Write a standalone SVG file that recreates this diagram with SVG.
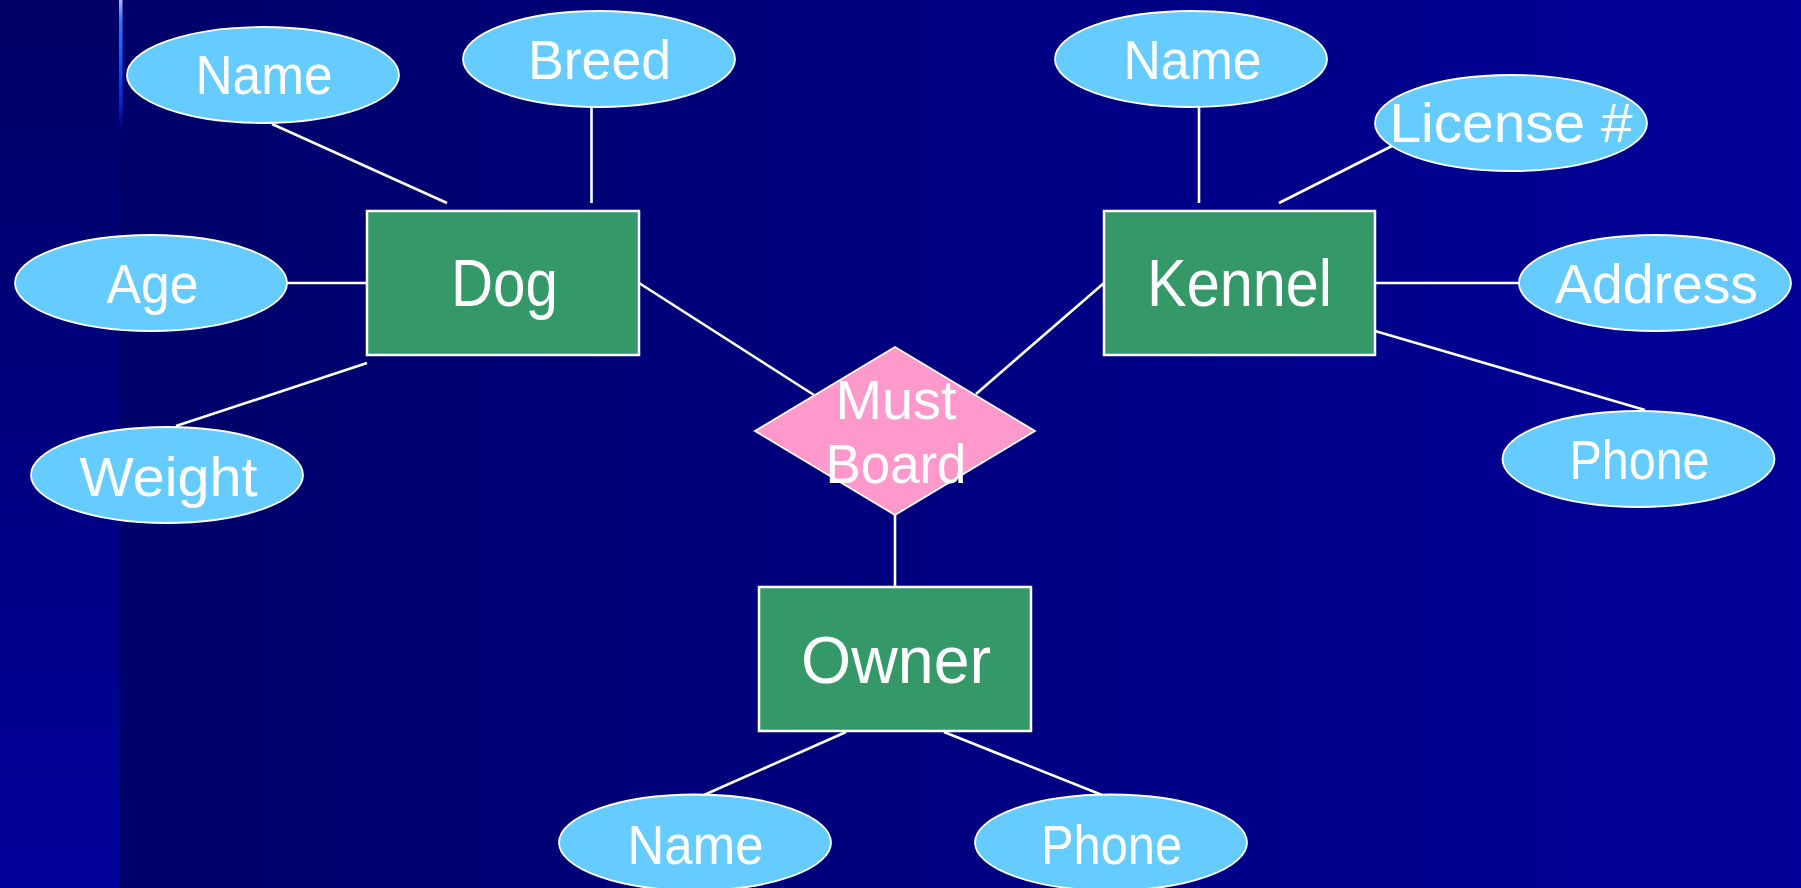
<svg xmlns="http://www.w3.org/2000/svg" width="1801" height="888" viewBox="0 0 1801 888">
<defs>
<linearGradient id="bgMain" x1="0" y1="0" x2="1" y2="0">
<stop offset="0" stop-color="#000066"/>
<stop offset="1" stop-color="#000098"/>
</linearGradient>
<linearGradient id="bgStrip" x1="0" y1="0" x2="0" y2="1">
<stop offset="0" stop-color="#000066"/>
<stop offset="1" stop-color="#00009A"/>
</linearGradient>
<linearGradient id="accent" x1="0" y1="0" x2="0" y2="1">
<stop offset="0" stop-color="#A8B8FF"/>
<stop offset="0.15" stop-color="#3377FF"/>
<stop offset="0.5" stop-color="#0055FF"/>
<stop offset="0.8" stop-color="#0022CC"/>
<stop offset="1" stop-color="#0000A0" stop-opacity="0"/>
</linearGradient>
</defs>
<style>
.ent{fill:#359868;stroke:#ffffff;stroke-width:2.5}
.attr{fill:#66CCFF;stroke:#ffffff;stroke-width:1.8}
.rel{fill:#FF99CC;stroke:#ffffff;stroke-width:1.8}
.conn line{stroke:#ffffff;stroke-width:2.6}
text{font-family:"Comic Sans MS","Liberation Sans",sans-serif;fill:#ffffff;text-anchor:middle}
.at{font-size:56px}
.et{font-size:66px}
</style>
<rect x="0" y="0" width="1801" height="888" fill="url(#bgMain)"/>
<rect x="0" y="0" width="120" height="888" fill="url(#bgStrip)"/>
<rect x="119" y="0" width="3.5" height="135" fill="url(#accent)"/>
<g id="connectors" class="conn">
<line x1="272" y1="124" x2="447" y2="203"/>
<line x1="591.5" y1="107" x2="591.5" y2="203"/>
<line x1="286" y1="283" x2="367" y2="283"/>
<line x1="176" y1="426" x2="367" y2="363"/>
<line x1="639" y1="283" x2="814" y2="395"/>
<line x1="1104" y1="283" x2="976" y2="394"/>
<line x1="895" y1="515" x2="895" y2="587"/>
<line x1="1199" y1="107" x2="1199" y2="203"/>
<line x1="1392" y1="146" x2="1279" y2="203"/>
<line x1="1375" y1="283" x2="1520" y2="283"/>
<line x1="1375" y1="331" x2="1645" y2="410"/>
<line x1="846" y1="732" x2="704" y2="795"/>
<line x1="944" y1="732" x2="1102" y2="795"/>
</g>
<g id="dog">
<rect class="ent" x="367" y="211" width="272" height="144"/>
<text class="et" x="504.5" y="306" textLength="107" lengthAdjust="spacingAndGlyphs">Dog</text>
</g>
<g id="kennel">
<rect class="ent" x="1104" y="211" width="271" height="144"/>
<text class="et" x="1239.5" y="306" textLength="185" lengthAdjust="spacingAndGlyphs">Kennel</text>
</g>
<g id="owner">
<rect class="ent" x="759" y="587" width="272" height="144"/>
<text class="et" x="896" y="683" textLength="190" lengthAdjust="spacingAndGlyphs">Owner</text>
</g>
<g id="must-board">
<polygon class="rel" points="895,347 1035,431 895,515 755,431"/>
<text class="at" x="896" y="419" textLength="121" lengthAdjust="spacingAndGlyphs">Must</text>
<text class="at" x="896" y="483" textLength="141" lengthAdjust="spacingAndGlyphs">Board</text>
</g>
<g id="dog-name">
<ellipse class="attr" cx="263" cy="75" rx="136" ry="48"/>
<text class="at" x="264" y="94" textLength="137" lengthAdjust="spacingAndGlyphs">Name</text>
</g>
<g id="dog-breed">
<ellipse class="attr" cx="599" cy="59" rx="136" ry="48"/>
<text class="at" x="599.5" y="78.5" textLength="143" lengthAdjust="spacingAndGlyphs">Breed</text>
</g>
<g id="dog-age">
<ellipse class="attr" cx="151" cy="283" rx="136" ry="48"/>
<text class="at" x="152.5" y="303" textLength="92" lengthAdjust="spacingAndGlyphs">Age</text>
</g>
<g id="dog-weight">
<ellipse class="attr" cx="167" cy="475" rx="136" ry="48"/>
<text class="at" x="168.5" y="496" textLength="178" lengthAdjust="spacingAndGlyphs">Weight</text>
</g>
<g id="kennel-name">
<ellipse class="attr" cx="1191" cy="59" rx="136" ry="48"/>
<text class="at" x="1192.5" y="79" textLength="138" lengthAdjust="spacingAndGlyphs">Name</text>
</g>
<g id="kennel-license">
<ellipse class="attr" cx="1511" cy="123" rx="136" ry="48"/>
<text class="at" x="1511" y="142" textLength="243" lengthAdjust="spacingAndGlyphs">License #</text>
</g>
<g id="kennel-address">
<ellipse class="attr" cx="1655" cy="283" rx="136" ry="48"/>
<text class="at" x="1656.5" y="303" textLength="203" lengthAdjust="spacingAndGlyphs">Address</text>
</g>
<g id="kennel-phone">
<ellipse class="attr" cx="1638.5" cy="459" rx="136" ry="48"/>
<text class="at" x="1639.5" y="478.5" textLength="140" lengthAdjust="spacingAndGlyphs">Phone</text>
</g>
<g id="owner-name">
<ellipse class="attr" cx="695" cy="842.5" rx="136" ry="48"/>
<text class="at" x="695.5" y="863.5" textLength="136" lengthAdjust="spacingAndGlyphs">Name</text>
</g>
<g id="owner-phone">
<ellipse class="attr" cx="1111" cy="842.5" rx="136" ry="48"/>
<text class="at" x="1111.5" y="863.5" textLength="141" lengthAdjust="spacingAndGlyphs">Phone</text>
</g>
</svg>
